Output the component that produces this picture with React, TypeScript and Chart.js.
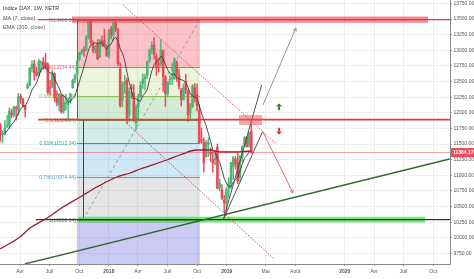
import React, { useEffect, useRef } from 'react';
import { Chart, registerables } from 'chart.js';
Chart.register(...registerables);

// ---------- data ----------
const weeks = [
  '2017-01-02','2017-01-09','2017-01-16','2017-01-23','2017-01-30','2017-02-06','2017-02-13','2017-02-20','2017-02-27','2017-03-06','2017-03-13','2017-03-20','2017-03-27','2017-04-03','2017-04-10','2017-04-17','2017-04-24','2017-05-01','2017-05-08','2017-05-15','2017-05-22','2017-05-29','2017-06-05','2017-06-12','2017-06-19','2017-06-26','2017-07-03','2017-07-10','2017-07-17','2017-07-24','2017-07-31','2017-08-07','2017-08-14','2017-08-21','2017-08-28','2017-09-04','2017-09-11','2017-09-18','2017-09-25','2017-10-02','2017-10-09','2017-10-16','2017-10-23','2017-10-30','2017-11-06','2017-11-13','2017-11-20','2017-11-27','2017-12-04','2017-12-11','2017-12-18','2017-12-25',
  '2018-01-01','2018-01-08','2018-01-15','2018-01-22','2018-01-29','2018-02-05','2018-02-12','2018-02-19','2018-02-26','2018-03-05','2018-03-12','2018-03-19','2018-03-26','2018-04-02','2018-04-09','2018-04-16','2018-04-23','2018-04-30','2018-05-07','2018-05-14','2018-05-21','2018-05-28','2018-06-04','2018-06-11','2018-06-18','2018-06-25','2018-07-02','2018-07-09','2018-07-16','2018-07-23','2018-07-30','2018-08-06','2018-08-13','2018-08-20','2018-08-27','2018-09-03','2018-09-10','2018-09-17','2018-09-24','2018-10-01','2018-10-08','2018-10-15','2018-10-22','2018-10-29','2018-11-05','2018-11-12','2018-11-19','2018-11-26','2018-12-03','2018-12-10','2018-12-17','2018-12-24','2018-12-31',
  '2019-01-07','2019-01-14','2019-01-21','2019-01-28','2019-02-04','2019-02-11','2019-02-18','2019-02-25','2019-03-04','2019-03-11','2019-03-18',
];
const opens = [
  11480,11590,11630,11580,11800,
  11650,11660,11780,11800,12000,11960,12080,12050,12260,12220,12110,12400,12440,12720,12780,12650,12600,12800,12810,12800,12770,12390,12420,12620,12230,12130,12270,12030,12150,12130,12200,12400,12530,12620,12860,12960,13000,13010,13200,13460,13100,12990,13090,12900,13150,13160,13070,
  12900,13340,13240,13440,13330,12700,12200,12450,12520,11960,12400,12320,11840,12090,12270,12470,12540,12600,12840,13000,13090,12900,12770,12780,13000,12570,12300,12520,12550,12550,12800,12600,12360,12210,12500,12340,12000,12100,12400,12290,12030,11570,11530,11300,11500,11370,11250,11250,11450,10800,10770,10600,10550,
  10790,10870,11140,11260,11200,10960,11290,11480,11610,11480,11700,
];
const highs = [
  11650,11640,11680,11890,11830,
  11710,11873,11960,12080,12060,12100,12110,12310,12300,12230,12120,12480,12720,12830,12840,12730,12860,12830,12890,12950,12800,12520,12680,12640,12350,12310,12290,12270,12290,12240,12310,12540,12620,12830,12970,13020,13060,13230,13470,13480,13150,13080,13170,13180,13230,13340,13090,
  13330,13380,13450,13480,13350,12800,12500,12600,12560,12400,12460,12450,12130,12300,12500,12620,12620,12830,13020,13140,13204,12940,12860,13170,13000,12600,12500,12600,12800,12880,12830,12700,12390,12460,12620,12370,12150,12450,12470,12460,12130,11750,11600,11560,11600,11440,11380,11400,11500,10940,10850,10680,10800,
  10960,11200,11300,11300,11370,11320,11470,11620,11620,11690,11820,
];
const lows = [
  11480,11460,11510,11560,11540,
  11520,11640,11760,11750,11920,11930,11880,11960,12150,12090,11930,12380,12430,12650,12520,12580,12590,12650,12690,12700,12300,12280,12400,12180,12110,12030,11990,11990,12040,11870,12150,12390,12480,12550,12830,12930,12900,12990,13180,13100,12960,12950,12850,12880,13060,13070,12900,
  12870,13180,13160,13300,12750,12090,12100,12310,11830,11860,12230,11860,11730,11860,12250,12390,12360,12550,12810,12950,12860,12600,12650,12750,12340,12100,12250,12450,12450,12530,12500,12380,12110,12200,12300,11860,11900,12080,12170,12030,11510,11510,11050,11290,11300,11220,11050,11170,10780,10750,10610,10400,10440,
  10640,10780,10930,11100,10860,10900,11220,11450,11450,11450,11350,
];
const closes = [
  11599,11629,11630,11814,11651,
  11666,11757,11804,12027,11963,12095,12064,12257,12225,12110,12049,12438,12717,12770,12638,12602,12823,12816,12752,12733,12325,12389,12632,12240,12162,12297,12014,12165,12167,12142,12303,12518,12592,12828,12955,12991,12991,13217,13460,13127,12994,13060,12861,13153,13104,13073,12918,
  13320,13245,13434,13340,12785,12107,12452,12483,11913,12346,12390,11886,12096,12241,12442,12540,12580,12820,13001,13077,12938,12724,12767,13010,12579,12306,12496,12540,12561,12860,12615,12424,12210,12394,12364,11960,12124,12431,12247,12112,11524,11554,11201,11519,11529,11341,11193,11257,10788,10866,10634,10559,10768,
  10888,11205,11282,11180,10907,11300,11457,11601,11457,11685,11364,
];

const emaDates = ['2017-01-29','2017-04-01','2017-05-02','2017-06-24','2017-08-12','2017-10-04','2017-11-25','2018-01-26','2018-03-08','2018-04-08','2018-06-30','2018-08-09','2018-10-01','2018-11-10','2018-12-11','2019-01-27','2019-03-14'];
const emaValues = [9820,10012,10156,10316,10492,10652,10812,10972,11036,11100,11244,11324,11404,11404,11372,11372,11388];

const xTickDates = ['2017-04-01','2017-07-01','2017-10-01','2018-01-01','2018-04-01','2018-07-01','2018-10-01','2019-01-01','2019-05-01','2019-08-01','2020-01-01','2020-04-01','2020-07-01','2020-10-01'];
const xTickLabels = ['Avr','Juil','Oct','2018','Avr','Juil','Oct','2019','Mai','Août','2020','Avr','Juil','Oct'];
const yTicks = [9750,10000,10250,10500,10750,11000,11250,11500,11750,12000,12250,12500,12750,13000,13250,13500,13750];
const xRange = ['2017-01-29', '2020-11-22'];
const yRange = [9580, 13804];

const lastPrice = 11364.17;

// Fibonacci retracement
const fibStart = '2017-09-24';
const fibEnd = '2018-10-10';
const fibLevels = [0, 0.236, 0.382, 0.5, 0.618, 0.786, 1, 1.618];
const fibPrices = [13489.64, 12734.44, 12267.24, 11889.64, 11512.04, 10974.44, 10289.64, 8311.96];
const fibTrendFrom = ['2017-10-13', 10289.64];
const fibTrendTo = ['2018-10-10', 13489.64];
const fibVert1 = ['2017-09-24', 13489.64, 11889.64];
const fibVert2 = ['2017-10-13', 11889.64, 10289.64];

// user drawings (date, price)
const resistanceLine = ['2017-05-27', 13489.64];
const resistanceBand = ['2017-09-09', '2020-09-15', 13440, 13540];
const midLine = ['2017-05-27', 11889.64];
const supportLine = ['2017-05-20', 10289.64];
const supportBand = ['2017-09-27', '2020-09-06', 10244, 10336];
const longTrend = [['2017-04-16', 9580], ['2020-11-21', 11260]];
const channelTop = [['2018-02-14', 13724], ['2019-05-31', 11516]];
const channelBottom = [['2018-02-25', 11831], ['2019-05-25', 9671]];
const wedgeLeft = [['2018-12-22', 10300], ['2019-04-19', 12444]];
const wedgeRight = [['2018-12-22', 10300], ['2019-04-22', 11700]];
const bullArrow = [['2019-04-23', 12124], ['2019-08-03', 13356]];
const bearArrow = [['2019-04-23', 11692], ['2019-07-25', 10716]];
const zoneRect = ['2019-02-08', '2019-04-20', 11804, 11964];
const upIcon = ['2019-06-12', 12092];
const downIcon = ['2019-06-12', 11708];

const dayOf = (s: string) => {
  const [y, m, d] = s.split('-').map(Number);
  return (Date.UTC(y, m - 1, d) - Date.UTC(2017, 0, 1)) / 86400000;
};

const FONT = "'Liberation Sans', Arial, sans-serif";
const UP = '#4fb477';
const DOWN = '#e84a58';

const zoneColors = [
  'rgba(242,54,69,0.3)',
  'rgba(170,210,90,0.22)',
  'rgba(76,175,80,0.24)',
  'rgba(8,153,129,0.18)',
  'rgba(60,160,215,0.24)',
  'rgba(120,123,134,0.2)',
  'rgba(90,90,225,0.32)',
];
const levelColors = ['#888888', '#ef5a5a', '#8bc34a', '#4caf50', '#26a69a', '#5b9fcc', '#777777', '#6a5acd'];

const drawingsPlugin = {
  id: 'drawings',
  beforeDatasetsDraw(chart: any) {
    const { ctx, chartArea: a, scales } = chart;
    const X = (d: string) => scales.x.getPixelForValue(dayOf(d));
    const Y = (v: number) => scales.y.getPixelForValue(v);
    ctx.save();
    ctx.beginPath();
    ctx.rect(a.left, a.top, a.width, a.height);
    ctx.clip();
    const x0 = X(fibStart);
    const x1 = X(fibEnd);
    for (let i = 0; i < fibPrices.length - 1; i++) {
      const ya = Y(fibPrices[i]);
      const yb = Y(fibPrices[i + 1]);
      ctx.fillStyle = zoneColors[i];
      ctx.fillRect(x0, ya, x1 - x0, yb - ya);
    }
    ctx.lineWidth = 1;
    ctx.font = `5px ${FONT}`;
    ctx.textAlign = 'right';
    ctx.textBaseline = 'middle';
    for (let i = 0; i < fibPrices.length - 1; i++) {
      const yy = Math.round(Y(fibPrices[i])) + 0.5;
      ctx.strokeStyle = levelColors[i];
      ctx.beginPath();
      ctx.moveTo(x0, yy);
      ctx.lineTo(x1, yy);
      ctx.stroke();
      ctx.fillStyle = levelColors[i];
      ctx.fillText(`${fibLevels[i]}(${fibPrices[i].toFixed(2)})`, x0 - 1, yy);
    }
    ctx.strokeStyle = '#666';
    ctx.lineWidth = 1;
    const v1x = Math.round(X(fibVert1[0] as string)) + 0.5;
    ctx.beginPath();
    ctx.moveTo(v1x, Y(fibVert1[1] as number));
    ctx.lineTo(v1x, Y(fibVert1[2] as number));
    ctx.stroke();
    ctx.strokeStyle = '#444';
    const v2x = Math.round(X(fibVert2[0] as string)) + 0.5;
    ctx.beginPath();
    ctx.moveTo(v2x, Y(fibVert2[1] as number));
    ctx.lineTo(v2x, Y(fibVert2[2] as number));
    ctx.stroke();
    ctx.strokeStyle = '#999';
    ctx.setLineDash([3, 3]);
    ctx.beginPath();
    ctx.moveTo(X(fibTrendFrom[0] as string), Y(fibTrendFrom[1] as number));
    ctx.lineTo(X(fibTrendTo[0] as string), Y(fibTrendTo[1] as number));
    ctx.stroke();
    ctx.setLineDash([]);
    ctx.restore();
  },
  afterDatasetsDraw(chart: any) {
    const { ctx, chartArea: a, scales } = chart;
    const X = (d: string) => scales.x.getPixelForValue(dayOf(d));
    const Y = (v: number) => scales.y.getPixelForValue(v);
    ctx.save();
    ctx.beginPath();
    ctx.rect(a.left, a.top, a.width, a.height);
    ctx.clip();

    const hline = (from: string, price: number, color: string, w: number) => {
      ctx.strokeStyle = color;
      ctx.lineWidth = w;
      ctx.beginPath();
      const yy = Y(price);
      ctx.moveTo(X(from), yy);
      ctx.lineTo(a.right, yy);
      ctx.stroke();
    };
    const seg = (p: any[], color: string, w: number, dash: number[] = []) => {
      ctx.strokeStyle = color;
      ctx.lineWidth = w;
      ctx.setLineDash(dash);
      ctx.beginPath();
      ctx.moveTo(X(p[0][0]), Y(p[0][1]));
      ctx.lineTo(X(p[1][0]), Y(p[1][1]));
      ctx.stroke();
      ctx.setLineDash([]);
    };
    const arrow = (p: any[], color: string) => {
      seg(p, color, 0.9);
      const xa = X(p[0][0]), ya = Y(p[0][1]);
      const xb = X(p[1][0]), yb = Y(p[1][1]);
      const ang = Math.atan2(yb - ya, xb - xa);
      ctx.strokeStyle = color;
      ctx.lineWidth = 0.9;
      ctx.beginPath();
      ctx.moveTo(xb - 3.5 * Math.cos(ang - 0.5), yb - 3.5 * Math.sin(ang - 0.5));
      ctx.lineTo(xb, yb);
      ctx.lineTo(xb - 3.5 * Math.cos(ang + 0.5), yb - 3.5 * Math.sin(ang + 0.5));
      ctx.stroke();
    };

    hline(xRange[0], lastPrice, 'rgba(242,54,69,0.45)', 1);

    ctx.fillStyle = 'rgba(240,60,75,0.6)';
    {
      const xa = X(resistanceBand[0] as string), xb = X(resistanceBand[1] as string);
      const ya = Y(resistanceBand[3] as number), yb = Y(resistanceBand[2] as number);
      ctx.fillRect(xa, ya, xb - xa, yb - ya);
    }
    hline(resistanceLine[0] as string, resistanceLine[1] as number, '#e53935', 1.2);
    hline(midLine[0] as string, midLine[1] as number, '#e53935', 1.8);

    ctx.fillStyle = 'rgba(40,220,40,0.6)';
    {
      const xa = X(supportBand[0] as string), xb = X(supportBand[1] as string);
      const ya = Y(supportBand[3] as number), yb = Y(supportBand[2] as number);
      ctx.fillRect(xa, ya, xb - xa, yb - ya);
    }
    hline(supportLine[0] as string, supportLine[1] as number, '#2c3b2c', 1.2);

    seg(longTrend, '#2f6b31', 1.3);
    seg(channelTop, 'rgba(205,70,70,0.85)', 1, [1.5, 1.5]);
    seg(channelBottom, 'rgba(170,60,60,0.85)', 1, [1.5, 1.5]);
    seg(wedgeLeft, '#444', 0.9);
    seg(wedgeRight, '#444', 0.9);
    arrow(bullArrow, '#8a8a8a');
    arrow(bearArrow, '#e06060');

    ctx.fillStyle = 'rgba(240,80,90,0.5)';
    {
      const xa = X(zoneRect[0] as string), xb = X(zoneRect[1] as string);
      const ya = Y(zoneRect[3] as number), yb = Y(zoneRect[2] as number);
      ctx.fillRect(xa, ya, xb - xa, yb - ya);
    }

    const icon = (p: any[], dir: number, color: string) => {
      const cx = X(p[0]), cy = Y(p[1]);
      ctx.fillStyle = color;
      ctx.beginPath();
      ctx.moveTo(cx, cy - 3.5 * dir);
      ctx.lineTo(cx + 3, cy - 0.5 * dir);
      ctx.lineTo(cx - 3, cy - 0.5 * dir);
      ctx.closePath();
      ctx.fill();
      ctx.fillRect(cx - 0.9, dir > 0 ? cy - 0.6 : cy - 3.2, 1.8, 3.8);
    };
    icon(upIcon, 1, '#1e7b2e');
    icon(downIcon, -1, '#e02828');

    ctx.restore();
  },
  afterDraw(chart: any) {
    const { ctx, chartArea: a, scales } = chart;
    const yy = scales.y.getPixelForValue(lastPrice);
    ctx.save();
    ctx.fillStyle = '#ef4f5c';
    ctx.fillRect(a.right + 1, yy - 4.5, 474 - a.right - 1, 9);
    ctx.fillStyle = '#ffffff';
    ctx.font = `bold 5px ${FONT}`;
    ctx.textAlign = 'left';
    ctx.textBaseline = 'middle';
    ctx.fillText(lastPrice.toFixed(2), a.right + 3, yy + 0.3);

    ctx.fillStyle = '#333';
    ctx.font = `5.5px ${FONT}`;
    ctx.textBaseline = 'middle';
    ctx.fillText('Indice DAX, 1W, XETR', 3, 8);
    ctx.fillStyle = '#555';
    ctx.fillText('MA (7, close)', 3, 18.5);
    ctx.fillText('EMA (200, close)', 3, 27.5);
    ctx.restore();
  },
};

export default function App() {
  const ref = useRef<HTMLCanvasElement>(null);
  useEffect(() => {
    document.body.style.margin = '0';
    const days = weeks.map(dayOf);
    const wicks = days.map((d, i) => ({ x: d, y: [lows[i], highs[i]] }));
    const bodies = days.map((d, i) => ({ x: d, y: [opens[i], closes[i]] }));
    const colors = days.map((_, i) => (closes[i] >= opens[i] ? UP : DOWN));
    const ma: any[] = [];
    for (let i = 6; i < closes.length; i++) {
      let s = 0;
      for (let k = i - 6; k <= i; k++) s += closes[k];
      ma.push({ x: days[i], y: s / 7 });
    }
    const ema = emaDates.map((d, i) => ({ x: dayOf(d), y: emaValues[i] }));

    const chart = new Chart(ref.current as HTMLCanvasElement, {
      type: 'bar',
      data: {
        datasets: [
          { type: 'line', data: ma, borderColor: '#3a3a3a', borderWidth: 0.9, pointRadius: 0, tension: 0 } as any,
          { type: 'line', data: ema, borderColor: '#9a1c26', borderWidth: 1.3, pointRadius: 0, cubicInterpolationMode: 'monotone' } as any,
          { type: 'bar', data: bodies, backgroundColor: colors, barThickness: 1.9, minBarLength: 1, grouped: false, borderWidth: 0 } as any,
          { type: 'bar', data: wicks, backgroundColor: colors, barThickness: 0.8, grouped: false, borderWidth: 0 } as any,
        ],
      },
      options: {
        responsive: false,
        animation: false,
        devicePixelRatio: 1,
        events: [],
        layout: { padding: 0 },
        plugins: { legend: { display: false }, tooltip: { enabled: false } },
        scales: {
          x: {
            type: 'linear',
            min: dayOf(xRange[0]),
            max: dayOf(xRange[1]),
            offset: false,
            afterBuildTicks: (s: any) => { s.ticks = xTickDates.map((d) => ({ value: dayOf(d) })); },
            afterFit: (s: any) => { s.height = 15; s.paddingLeft = 0; s.paddingRight = 0; },
            grid: { color: '#eeeeee', offset: false, tickLength: 2, tickColor: '#999' },
            border: { color: '#8a8a8a' },
            ticks: {
              autoSkip: false,
              maxRotation: 0,
              padding: 2.5,
              color: '#555',
              font: (c: any) => ({ size: 5, family: FONT, weight: /^\d{4}$/.test(xTickLabels[c.index] || '') ? 'bold' : 'normal' }),
              callback: (_v: any, i: number) => xTickLabels[i],
            },
          },
          y: {
            type: 'linear',
            position: 'right',
            min: yRange[0],
            max: yRange[1],
            afterBuildTicks: (s: any) => { s.ticks = yTicks.map((v) => ({ value: v })); },
            afterFit: (s: any) => { s.width = 24; s.paddingTop = 0; s.paddingBottom = 0; },
            grid: { color: '#eeeeee', tickLength: 2, tickColor: '#999' },
            border: { color: '#8a8a8a' },
            ticks: {
              autoSkip: false,
              padding: 1.5,
              color: '#555',
              font: { size: 5, family: FONT },
              callback: (v: any) => Number(v).toFixed(2),
            },
          },
        },
      } as any,
      plugins: [drawingsPlugin],
    });
    return () => chart.destroy();
  }, []);
  return (
    <div style={{ width: 474, height: 279 }}>
      <canvas ref={ref} width={474} height={279} style={{ display: 'block' }} />
    </div>
  );
}
